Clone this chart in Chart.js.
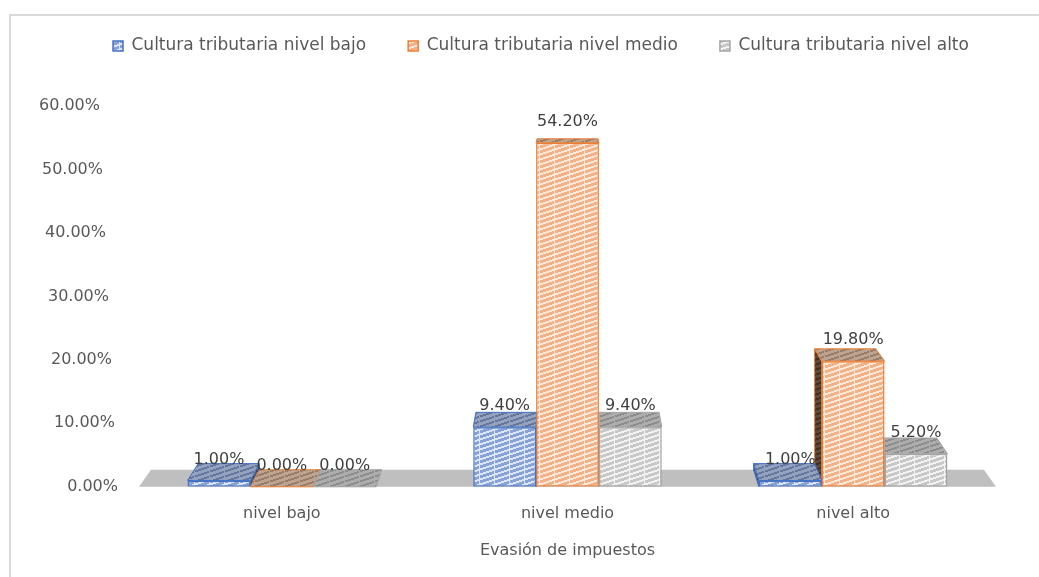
<!DOCTYPE html>
<html>
<head>
<meta charset="utf-8">
<script src="https://cdn.jsdelivr.net/npm/chart.js@4.4.0/dist/chart.umd.min.js"></script>
<style>
html,body{margin:0;padding:0;background:#ffffff;}
#wrap{position:absolute;left:0;top:0;width:1039px;height:577px;}
</style>
</head>
<body>
<div id="wrap"><canvas id="c"></canvas></div>
<script>
// ---- data ----
const categories = ['nivel bajo', 'nivel medio', 'nivel alto'];
const seriesNames = ['Cultura tributaria nivel bajo', 'Cultura tributaria nivel medio', 'Cultura tributaria nivel alto'];
const culturaBajo = [1.0, 9.4, 1.0];
const culturaMedio = [0.0, 54.2, 19.8];
const culturaAlto = [0.0, 9.4, 5.2];
const yTicks = [0, 10, 20, 30, 40, 50, 60];
const xAxisTitle = 'Evasión de impuestos';

// ---- styles ----
const FONT = '"DejaVu Sans", sans-serif';
Chart.defaults.font.family = FONT;
Chart.defaults.color = '#595959';

function hatch(fg, bg, cover) {
  const w = 15, h = 5;
  const c = document.createElement('canvas');
  c.width = w; c.height = h;
  const g = c.getContext('2d');
  g.fillStyle = bg; g.fillRect(0, 0, w, h);
  g.fillStyle = fg;
  for (let y = 0; y < h; y++) {
    for (let x = 0; x < w; x++) {
      const k = (y + Math.floor(x / 3)) % 5;
      if (k < cover && x % 15 !== 14) g.fillRect(x, y, 1, 1);
    }
  }
  return g.createPattern(c, 'repeat');
}

const styles = [
  { border: '#4472C4', front: hatch('#86A2D9', '#DDE6F5', 3), top: hatch('#62769F', '#95A2BE', 2), side: hatch('#34425F', '#50607F', 2) },
  { border: '#ED7D31', front: hatch('#F6B086', '#FDEADC', 3), top: hatch('#9A7B65', '#BCA492', 2), side: hatch('#3D3028', '#5A4A3E', 2) },
  { border: '#A5A5A5', front: hatch('#C8C8C8', '#F3F3F3', 3), top: hatch('#8C8C8C', '#ADADAD', 2), side: hatch('#666666', '#808080', 2) }
];

const seriesData = [culturaBajo, culturaMedio, culturaAlto];

function proj(chart, x, y) {
  const a = chart.chartArea;
  const vx = (a.left + a.right) / 2;
  const vy = a.top - 0.18 * (a.bottom - a.top);
  return [x + 0.028 * (vx - x), y + 0.038 * (vy - y)];
}

function poly(ctx, pts, fill, stroke) {
  ctx.beginPath();
  ctx.moveTo(pts[0][0], pts[0][1]);
  for (let i = 1; i < pts.length; i++) ctx.lineTo(pts[i][0], pts[i][1]);
  ctx.closePath();
  ctx.fillStyle = fill; ctx.fill();
  if (stroke) { ctx.strokeStyle = stroke; ctx.lineWidth = 1; ctx.stroke(); }
}

const frame3d = {
  id: 'frame3d',
  afterLayout(chart) {
    const lg = chart.legend;
    if (lg) {
      lg.top -= 41.5; lg.bottom -= 41.5;
      lg.left += 71; lg.right += 71;
    }
  },
  beforeDraw(chart) {
    const ctx = chart.ctx;
    ctx.save();
    ctx.strokeStyle = '#D9D9D9';
    ctx.lineWidth = 2;
    ctx.beginPath();
    ctx.moveTo(10, 577);
    ctx.lineTo(10, 15);
    ctx.lineTo(1039, 15);
    ctx.stroke();
    ctx.restore();
  },
  beforeDatasetsDraw(chart) {
    const ctx = chart.ctx, a = chart.chartArea;
    ctx.save();
    // floor
    const fl = [a.left, a.bottom], fr = [a.right, a.bottom];
    poly(ctx, [fl, fr, proj(chart, fr[0], fr[1]), proj(chart, fl[0], fl[1])], '#BFBFBF');
    const bars = [];
    chart.data.datasets.forEach((ds, i) => {
      chart.getDatasetMeta(i).data.forEach(el => {
        const p = el.getProps(['x', 'y', 'base', 'width'], true);
        bars.push({ i, x1: p.x - p.width / 2, x2: p.x + p.width / 2, y: p.y, base: p.base });
      });
    });
    // side faces
    bars.forEach(b => {
      const st = styles[b.i];
      const t1 = proj(chart, b.x1, b.y), t2 = proj(chart, b.x2, b.y);
      const b1 = proj(chart, b.x1, b.base), b2 = proj(chart, b.x2, b.base);
      if (t1[0] < b.x1) poly(ctx, [[b.x1, b.y], [b.x1, b.base], b1, t1], st.side, st.border);
      else if (t2[0] > b.x2) poly(ctx, [[b.x2, b.y], [b.x2, b.base], b2, t2], st.side, st.border);
    });
    // top faces
    bars.forEach(b => {
      const st = styles[b.i];
      poly(ctx, [[b.x1, b.y], [b.x2, b.y], proj(chart, b.x2, b.y), proj(chart, b.x1, b.y)], st.top, st.border);
    });
    ctx.restore();
  },
  afterDatasetsDraw(chart) {
    const ctx = chart.ctx;
    ctx.save();
    ctx.font = '16px ' + FONT;
    ctx.fillStyle = '#404040';
    ctx.textAlign = 'center';
    ctx.textBaseline = 'middle';
    chart.data.datasets.forEach((ds, i) => {
      chart.getDatasetMeta(i).data.forEach((el, j) => {
        const p = el.getProps(['x', 'y'], true);
        ctx.fillText(ds.data[j].toFixed(2) + '%', p.x, p.y - 21);
      });
    });
    ctx.restore();
  },
  afterDraw(chart) {
    const ctx = chart.ctx, a = chart.chartArea, s = chart.scales.y;
    ctx.save();
    ctx.font = '16px ' + FONT;
    ctx.fillStyle = '#595959';
    ctx.textAlign = 'right';
    ctx.textBaseline = 'middle';
    yTicks.forEach(v => {
      const y = s.getPixelForValue(v);
      const right = a.left - 21 - 18 * (a.bottom - y) / (a.bottom - a.top);
      ctx.fillText(v.toFixed(2) + '%', right, y);
    });
    ctx.restore();
  }
};

new Chart(document.getElementById('c'), {
  type: 'bar',
  data: {
    labels: categories,
    datasets: seriesNames.map((name, i) => ({
      label: name,
      data: seriesData[i],
      backgroundColor: styles[i].front,
      borderColor: styles[i].border,
      borderWidth: 1.5,
      borderSkipped: false,
      categoryPercentage: 0.66,
      barPercentage: 1.0
    }))
  },
  options: {
    responsive: true,
    maintainAspectRatio: false,
    devicePixelRatio: 1,
    animation: false,
    layout: { padding: { top: 37, right: 43, bottom: 13, left: 0 } },
    plugins: {
      legend: {
        position: 'top',
        align: 'start',
        labels: {
          font: { size: 17, family: FONT },
          color: '#595959',
          boxWidth: 10,
          boxHeight: 10,
          padding: 42
        }
      },
      tooltip: { enabled: false }
    },
    scales: {
      x: {
        grid: { display: false, drawTicks: false },
        border: { display: false },
        ticks: { font: { size: 16, family: FONT }, color: '#595959', padding: 17.4 },
        title: { display: true, text: xAxisTitle, color: '#595959', font: { size: 16, family: FONT }, padding: { top: 0, bottom: 4 } }
      },
      y: {
        min: 0,
        max: 60,
        grid: { display: false, drawTicks: false },
        border: { display: false },
        ticks: { display: false },
        afterFit: s => { s.width = 139; }
      }
    }
  },
  plugins: [frame3d]
});
</script>
</body>
</html>
